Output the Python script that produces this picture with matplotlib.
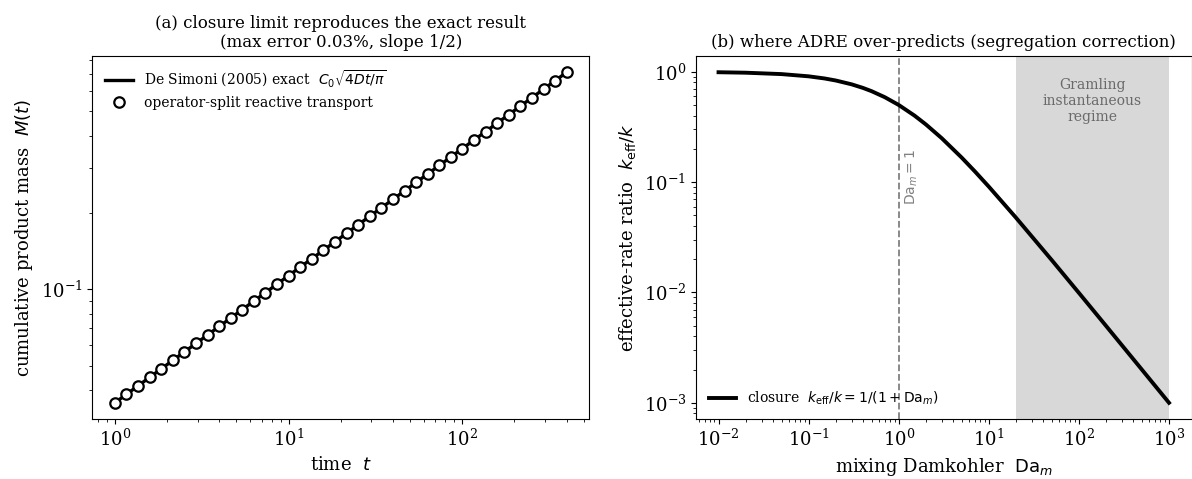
import matplotlib
matplotlib.use('Agg')
import matplotlib.pyplot as plt

plt.rcParams['font.family'] = 'DejaVu Serif'
plt.rcParams['mathtext.fontset'] = 'dejavusans'

# panel (a): cumulative product mass vs time
t_vals = [1.000, 1.166, 1.360, 1.586, 1.849, 2.156, 2.514, 2.931, 3.418, 3.986,
          4.648, 5.420, 6.320, 7.370, 8.593, 10.02, 11.68, 13.62, 15.89, 18.52,
          21.60, 25.19, 29.37, 34.25, 39.94, 46.57, 54.30, 63.32, 73.84, 86.10,
          100.4, 117.1, 136.5, 159.2, 185.6, 216.4, 252.3, 294.3, 343.1, 400.0]
M_exact = [0.03568, 0.03853, 0.04161, 0.04493, 0.04852, 0.05239, 0.05658, 0.06109,
           0.06597, 0.07124, 0.07693, 0.08307, 0.08970, 0.09687, 0.1046, 0.1130,
           0.1220, 0.1317, 0.1422, 0.1536, 0.1658, 0.1791, 0.1934, 0.2088,
           0.2255, 0.2435, 0.2629, 0.2839, 0.3066, 0.3311, 0.3575, 0.3861,
           0.4169, 0.4502, 0.4861, 0.5249, 0.5668, 0.6121, 0.6610, 0.7137]
M_split = [0.03568, 0.03853, 0.04161, 0.04493, 0.04852, 0.05239, 0.05658, 0.06109,
           0.06597, 0.07124, 0.07693, 0.08307, 0.08970, 0.09687, 0.1046, 0.1130,
           0.1220, 0.1317, 0.1422, 0.1536, 0.1658, 0.1791, 0.1934, 0.2088,
           0.2255, 0.2435, 0.2629, 0.2839, 0.3066, 0.3311, 0.3575, 0.3861,
           0.4169, 0.4502, 0.4861, 0.5249, 0.5668, 0.6121, 0.6610, 0.7137]

# panel (b): effective-rate ratio vs mixing Damkohler number
Da = [0.01, 0.02, 0.05, 0.1, 0.15, 0.2, 0.3, 0.4, 0.5, 0.7, 1, 1.5, 2, 3, 5, 7,
      10, 20, 50, 100, 200, 500, 1000]
k_ratio = [0.9901, 0.9804, 0.9524, 0.9091, 0.8696, 0.8333, 0.7692, 0.7143, 0.6667,
           0.5882, 0.5, 0.4, 0.3333, 0.25, 0.1667, 0.125, 0.09091, 0.04762,
           0.01961, 0.009901, 0.004975, 0.001996, 0.000999]
gramling_lo, gramling_hi = 20, 1000

fig = plt.figure(figsize=(11.92, 4.79), dpi=100)
ax1 = fig.add_axes([0.0774, 0.1246, 0.4170, 0.7591])
ax2 = fig.add_axes([0.5839, 0.1246, 0.4157, 0.7591])

ax1.plot(t_vals, M_exact, color='black', linewidth=2.4,
         label=r'De Simoni (2005) exact  $C_0\sqrt{4Dt/\pi}$')
ax1.plot(t_vals, M_split, linestyle='none', marker='o', markersize=7.5,
         markerfacecolor='white', markeredgecolor='black', mew=1.6,
         label='operator-split reactive transport')
ax1.set_xscale('log')
ax1.set_yscale('log')
ax1.set_xlabel(r'time  $t$', fontsize=13)
ax1.set_ylabel(r'cumulative product mass  $M(t)$', fontsize=13)
ax1.set_title('(a) closure limit reproduces the exact result\n(max error 0.03%, slope 1/2)', fontsize=12)
ax1.tick_params(labelsize=13)
ax1.legend(loc='upper left', frameon=False, fontsize=10)

ax2.axvspan(gramling_lo, gramling_hi, color='gray', alpha=0.3, linewidth=0)
ax2.axvline(1, color='gray', linestyle='--', linewidth=1.3)
ax2.plot(Da, k_ratio, color='black', linewidth=2.8,
         label=r'closure  $k_{\rm eff}/k = 1/(1 + {\rm Da}_m)$')
ax2.set_xscale('log')
ax2.set_yscale('log')
ax2.text(141, 0.94, 'Gramling\ninstantaneous\nregime', ha='center', va='top',
         color='dimgray', fontsize=10, transform=ax2.get_xaxis_transform())
ax2.text(1.4, 0.11, r'${\rm Da}_m = 1$', rotation=90, ha='center', va='center',
         color='gray', fontsize=10)
ax2.set_xlabel(r'mixing Damkohler  ${\rm Da}_m$', fontsize=13)
ax2.set_ylabel(r'effective-rate ratio  $k_{\rm eff}/k$', fontsize=13)
ax2.set_title('(b) where ADRE over-predicts (segregation correction)', fontsize=12)
ax2.tick_params(labelsize=13)
ax2.legend(loc='lower left', frameon=False, fontsize=10)

fig.savefig('out.png', dpi=100)
